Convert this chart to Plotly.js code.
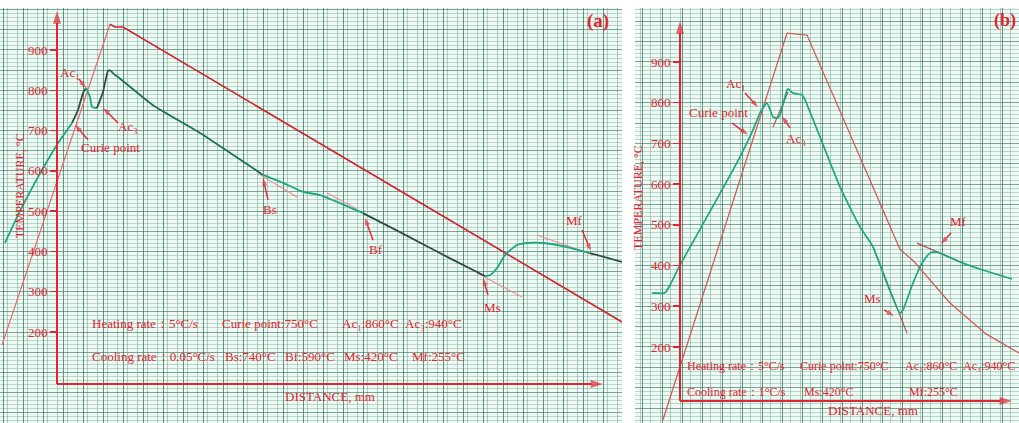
<!DOCTYPE html>
<html><head><meta charset="utf-8">
<script src="https://cdn.plot.ly/plotly-3.0.1.min.js"></script>
<style>html,body{margin:0;padding:0;background:#fff}#chart{width:1019px;height:423px}</style>
</head><body><div id="chart"></div>
<script>
// ---------- Panel (a): cooling rate 0.05 °C/s ----------
// x = distance on chart paper (mm), y = temperature (°C)
const redA_heat_x = [-27.5, 26.5];
const redA_heat_T = [168, 964];
const redA_cool_x = [26.5, 29, 33, 282.5];
const redA_cool_T = [964, 957, 957, 225];
const greenA_x = [-26, -20, -10, 0, 4, 7.5, 10.5, 13, 14.5, 16.5, 17.5, 20, 23, 25.5, 26.5, 29, 30.5, 48, 71.5, 103, 113, 123, 131.5, 141.5, 153, 171.5, 198, 214, 216.5, 220, 224, 230, 235, 243, 255, 266.5, 282.5];
const greenA_T = [421, 485, 580, 665, 694, 719, 751, 793, 806, 783, 759, 756, 796, 848, 850, 838, 833, 763, 694, 590, 570, 548, 540, 520, 495, 448, 379, 339, 341, 359, 391, 416, 421, 421, 411, 396, 374];
const tangentsA = [ // Bs, Bf, Ms, Mf construction lines
  {x: [100, 120], T: [595, 535]},
  {x: [135, 150], T: [545, 505]},
  {x: [210, 232.5], T: [346.5, 287]},
  {x: [240, 268], T: [441, 391]}
];
// ---------- Panel (b): cooling rate 1 °C/s ----------
const redB_x = [-8.5, 53.5, 63.5, 103.5, 110, 117, 135, 153, 169.5];
const redB_T = [21, 971, 966, 512, 440, 410, 308, 232, 185];
const greenB_x = [-14, -7.5, -5, 0, 19, 30, 36.5, 40, 43.5, 46.5, 48.5, 50, 53.5, 54, 56.5, 61, 62.5, 70, 80, 90, 96.5, 101.5, 110, 111.5, 116.5, 121, 125, 129, 130, 141.5, 151.5, 166];
const greenB_T = [333, 333, 352, 401, 568, 667, 733, 775, 799, 765, 762, 770, 831, 834, 824, 819, 807, 716, 593, 495, 446, 382, 283, 291, 357, 406, 431, 433, 431, 406, 389, 367];
const tangentsB = [
  {x: [46.5, 54], T: [740, 826]},
  {x: [96.5, 113.5], T: [446, 234]},
  {x: [118.5, 141.5], T: [455, 406]}
];
// ---------- tick labels ----------
const tempTicks = [200, 300, 400, 500, 600, 700, 800, 900];
const tempTickText = ['200', '300', '400', '500', '600', '700', '800', '900'];

const RED = 'rgb(222,38,48)';
const TEAL = 'rgb(28,168,126)';
const DARK = 'rgb(45,78,64)';
const DKGREEN = 'rgb(32,112,88)';
const SERIF = 'Liberation Serif, Times New Roman, serif';

const traces = [];
function line(x, y, xa, ya, color, width, shape) {
  traces.push({type: 'scatter', mode: 'lines', x: x, y: y, xaxis: xa, yaxis: ya,
    line: {color: color, width: width, shape: shape || 'linear', smoothing: 0.5},
    hoverinfo: 'skip', showlegend: false});
}
function arrow(xa, ya, hx, hy, tx, ty, w, size) {
  traces.push({type: 'scatter', mode: 'lines+markers', x: [tx, hx], y: [ty, hy], xaxis: xa, yaxis: ya,
    line: {color: RED, width: w || 1.4},
    marker: {symbol: 'arrow', angleref: 'previous', size: [0, size || 8], color: RED, line: {width: 0}},
    hoverinfo: 'skip', showlegend: false, cliponaxis: false});
}
// panel (a)
tangentsA.forEach(t => line(t.x, t.T, 'x', 'y', 'rgba(235,130,135,0.9)', 1.1));
line(redA_heat_x, redA_heat_T, 'x', 'y3', 'rgb(230,105,110)', 1.2);
line(redA_cool_x, redA_cool_T, 'x', 'y3', 'rgb(205,35,50)', 1.6);
const segA = [[0, 5, TEAL], [5, 8, DARK], [8, 11, TEAL], [11, 14, DARK], [14, 19, DKGREEN], [19, 24, TEAL], [24, 27, DARK], [27, 35, TEAL], [35, 36, DARK]];
segA.forEach(s => line(greenA_x.slice(s[0], s[1] + 1), greenA_T.slice(s[0], s[1] + 1), 'x', 'y3', s[2], 1.8, 'spline'));
// panel (b)
tangentsB.forEach(t => line(t.x, t.T, 'x2', 'y2', 'rgba(170,70,60,0.9)', 1.2));
line(redB_x, redB_T, 'x2', 'y4', 'rgb(205,95,88)', 1.3);
line(greenB_x, greenB_T, 'x2', 'y4', TEAL, 1.7, 'spline');

// axes arrows
arrow('x', 'y3', 0, 996, 0, 71, 2, 13);
arrow('x', 'y3', 273, 71, 0, 71, 2, 13);
arrow('x2', 'y4', 0, 1000, 0, 67.4, 2, 13);
arrow('x2', 'y4', 166, 67.4, 0, 67.4, 2, 13);
// label pointers, panel (a)
arrow('x', 'y3', 14.5, 805, 11, 828);
arrow('x', 'y3', 23, 756, 30.5, 719);
arrow('x', 'y3', 9, 714, 15.5, 677);
arrow('x', 'y3', 103, 582, 105.5, 528);
arrow('x', 'y3', 154, 483, 158, 428);
arrow('x', 'y3', 213, 334, 215.5, 292);
arrow('x', 'y3', 267, 401, 262.5, 453);
// label pointers, panel (b)
arrow('x2', 'y4', 39, 789, 32.5, 824);
arrow('x2', 'y4', 34, 721, 26, 750);
arrow('x2', 'y4', 51, 767, 55, 738);
arrow('x2', 'y4', 107, 276, 102, 291);
arrow('x2', 'y4', 130.5, 453, 135.5, 480);

const gridX = {showgrid: true, gridcolor: 'rgba(60,110,95,0.75)', gridwidth: 1, dtick: 10, tick0: 3,
  minor: {dtick: 5, showgrid: true, gridcolor: 'rgba(95,155,135,0.45)', gridwidth: 1},
  showticklabels: false, ticks: '', zeroline: false, showline: false};
const gridY = {showgrid: true, gridcolor: 'rgba(60,110,95,0.62)', gridwidth: 1, dtick: 50, tick0: 0,
  minor: {dtick: 10, showgrid: true, gridcolor: 'rgba(100,165,145,0.4)', gridwidth: 1},
  showticklabels: false, ticks: '', zeroline: false, showline: false};
const rangeA = [-25.8, 1004.2], rangeB = [13.2, 1032.6];
const yDom = [0, 415 / 423];
const tickAxis = (over, pos, range) => ({overlaying: over, anchor: 'free', position: pos, range: range, domain: yDom,
  tickmode: 'array', tickvals: tempTicks, ticktext: tempTickText, ticks: 'outside', ticklen: 7, tickwidth: 1.5,
  tickcolor: RED, showgrid: false, zeroline: false, showline: false,
  tickfont: {family: SERIF, size: 13, color: RED}});

const ann = [];
function txt(xr, yr, x, y, text, opts) {
  ann.push(Object.assign({xref: xr, yref: yr, x: x, y: y, text: text, showarrow: false,
    font: {family: SERIF, size: 13, color: RED}, xanchor: 'center', yanchor: 'middle'}, opts || {}));
}
// panel (a) labels
txt('x', 'y3', 6.5, 843, 'Ac₁');
txt('x', 'y3', 35.5, 711, 'Ac₃');
txt('x', 'y3', 26.5, 659, 'Curie point');
txt('x', 'y3', 106.5, 503, 'Bs');
txt('x', 'y3', 159.5, 406, 'Bf');
txt('x', 'y3', 217.5, 260, 'Ms');
txt('x', 'y3', 258.5, 476, 'Mf');
txt('x', 'y3', 270.5, 972, '(a)', {font: {family: SERIF, size: 19, color: RED, weight: 'bold'}});
txt('x', 'y3', -18.5, 562, 'TEMPERATURE, °C', {textangle: -90, font: {family: SERIF, size: 12, color: RED}});
txt('x', 'y3', 136.5, 41, 'DISTANCE, mm');
const L = {xanchor: 'left'};
txt('x', 'y3', 16.5, 222, 'Heating rate：5°C/s', L);
txt('x', 'y3', 81.5, 222, 'Curie point:750°C', L);
txt('x', 'y3', 141.5, 222, 'Ac₁:860°C', L);
txt('x', 'y3', 173, 222, 'Ac₃:940°C', L);
txt('x', 'y3', 16.5, 140, 'Cooling rate：0.05°C/s', L);
txt('x', 'y3', 83, 140, 'Bs:740°C', L);
txt('x', 'y3', 113, 140, 'Bf:590°C', L);
txt('x', 'y3', 142.5, 140, 'Ms:420°C', L);
txt('x', 'y3', 176.5, 140, 'Mf:255°C', L);
// panel (b) labels
const LB = {xanchor: 'left', font: {family: SERIF, size: 12, color: RED}};
txt('x2', 'y4', 28, 848, 'Ac₁');
txt('x2', 'y4', 19, 775, 'Curie point');
txt('x2', 'y4', 58, 713, 'Ac₃');
txt('x2', 'y4', 96, 318, 'Ms');
txt('x2', 'y4', 139, 507, 'Mf');
txt('x2', 'y4', 162.3, 1003, '(b)', {font: {family: SERIF, size: 18, color: RED, weight: 'bold'}});
txt('x2', 'y4', -21, 566, 'TEMPERATURE, °C', {textangle: -90, font: {family: SERIF, size: 12, color: RED}});
txt('x2', 'y4', 96.5, 43, 'DISTANCE, mm');
txt('x2', 'y4', 2.5, 153, 'Heating rate：5°C/s', LB);
txt('x2', 'y4', 59, 153, 'Curie point:750°C', LB);
txt('x2', 'y4', 111.5, 153, 'Ac₁:860°C', LB);
txt('x2', 'y4', 140.5, 153, 'Ac₃:940°C', LB);
txt('x2', 'y4', 2.5, 89, 'Cooling rate：1°C/s', LB);
txt('x2', 'y4', 61, 89, 'Ms:420°C', LB);
txt('x2', 'y4', 113.5, 89, 'Mf:255°C', LB);

const layout = {
  width: 1019, height: 423, margin: {l: 0, r: 0, t: 0, b: 0},
  paper_bgcolor: '#ffffff', plot_bgcolor: 'rgb(239,249,244)', showlegend: false,
  xaxis: Object.assign({}, gridX, {domain: [0, 622 / 1019], range: [-28.5, 282.5], anchor: 'y'}),
  yaxis: Object.assign({}, gridY, {domain: yDom, range: rangeA, anchor: 'x'}),
  xaxis2: Object.assign({}, gridX, {domain: [635 / 1019, 1], range: [-22.5, 169.5], anchor: 'y2', tick0: 1}),
  yaxis2: Object.assign({}, gridY, {domain: yDom, range: rangeB, anchor: 'x2'}),
  yaxis3: tickAxis('y', 57 / 1019, rangeA),
  yaxis4: tickAxis('y2', 680 / 1019, rangeB),
  annotations: ann
};
Plotly.newPlot('chart', traces, layout, {staticPlot: true, displayModeBar: false});
</script></body></html>
